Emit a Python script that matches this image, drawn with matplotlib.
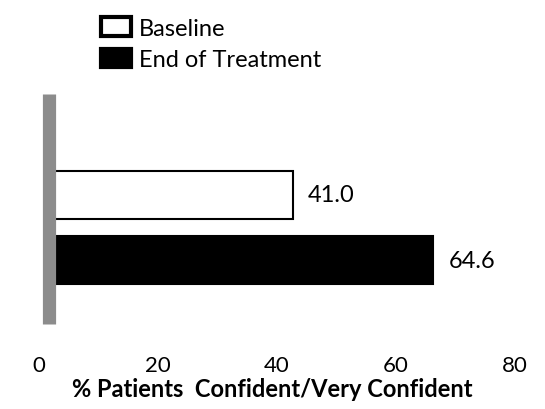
import matplotlib
matplotlib.use("Agg")
import matplotlib.pyplot as plt
from matplotlib.patches import Patch
from matplotlib.transforms import ScaledTranslation

plt.rcParams['font.family'] = ['Lato', 'DejaVu Sans']

groups = ['Baseline', 'End of Treatment']
values = [41.0, 64.6]
ypos = [1, 0]
colors = ['white', 'black']
xticks = [0, 20, 40, 60, 80]

fig = plt.figure(figsize=(5.45, 4.1), dpi=100)
ax = fig.add_axes([0.089, 0.207, 0.874, 0.561])

bars = ax.barh(ypos, values, height=0.74, color=colors, edgecolor='black',
               linewidth=1.5, zorder=1)
ax.bar_label(bars, labels=['%.1f' % v for v in values], padding=11, fontsize=17)

ax.set_xlim(0, 80)
ax.set_ylim(-0.985, 2.55)
ax.set_xticks(xticks)
ax.set_yticks([])
ax.tick_params(axis='x', length=0, pad=22, labelsize=16)
for lab in ax.get_xticklabels():
    lab.set_transform(lab.get_transform() + ScaledTranslation(-0.1, 0, fig.dpi_scale_trans))

for s in ['top', 'right', 'bottom']:
    ax.spines[s].set_visible(False)
ax.spines['left'].set_color('#8c8c8c')
ax.spines['left'].set_linewidth(9.5)
ax.spines['left'].set_capstyle('butt')
ax.spines['left'].set_zorder(3)

ax.set_xlabel('% Patients  Confident/Very Confident', fontsize=17,
              fontweight='bold')
ax.xaxis.set_label_coords(0.469, -0.232)

handles = [Patch(facecolor='white', edgecolor='black', linewidth=3),
           Patch(facecolor='black', edgecolor='black', linewidth=3)]
fig.legend(handles, groups, loc='upper left', bbox_to_anchor=(0.168, 0.978),
           frameon=False, fontsize=17, handlelength=1.25, handleheight=0.8,
           handletextpad=0.35, labelspacing=0.42, borderaxespad=0)

fig.savefig('out.png', dpi=100)
